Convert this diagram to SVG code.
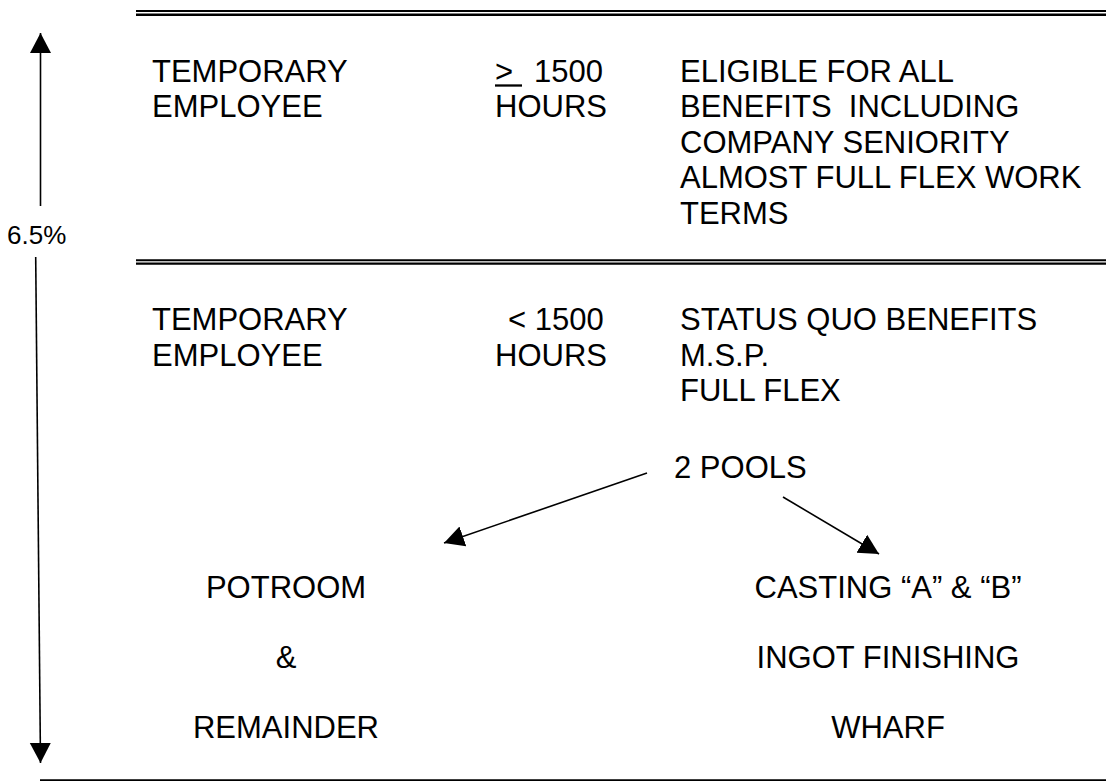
<svg xmlns="http://www.w3.org/2000/svg" width="1106" height="782" viewBox="0 0 1106 782">
<style>
text{font-family:"Liberation Sans",Arial,sans-serif;font-size:31px;fill:#000}
.pct{font-size:26px}
.rule{stroke:#000;fill:none}
.conn{stroke:#000;stroke-width:1.6;fill:none}
</style>
<defs>
<marker id="ah" markerUnits="userSpaceOnUse" markerWidth="22" markerHeight="22" refX="20" refY="10.5" orient="auto" viewBox="0 0 22 22">
<path d="M0,0 L20,10.5 L0,21 Z" fill="#000"/>
</marker>
</defs>
<rect width="1106" height="782" fill="#fff"/>
<g id="rules">
<line class="rule" x1="136" y1="11" x2="1106" y2="11" stroke-width="2"/>
<line class="rule" x1="136" y1="14.8" x2="1106" y2="14.8" stroke-width="2.5"/>
<line class="rule" x1="136" y1="260.3" x2="1106" y2="260.3" stroke-width="2"/>
<line class="rule" x1="136" y1="263.7" x2="1106" y2="263.7" stroke-width="2.3"/>
<line class="rule" x1="40" y1="780.2" x2="1106" y2="780.2" stroke-width="1.7"/>
</g>
<g id="connectors">
<line class="conn" x1="40.5" y1="206" x2="40.5" y2="33" marker-end="url(#ah)"/>
<line class="conn" x1="35.7" y1="257" x2="40.5" y2="763" marker-end="url(#ah)"/>
<line class="conn" x1="647" y1="473" x2="444" y2="543" marker-end="url(#ah)"/>
<line class="conn" x1="783" y1="497" x2="879" y2="554" marker-end="url(#ah)"/>
</g>
<g id="pct-label"><text class="pct" x="7" y="244">6.5%</text></g>
<g id="tier-over-1500">
<text x="152" y="81.5">TEMPORARY</text>
<text x="152" y="117">EMPLOYEE</text>
<text x="495" y="81.5">&gt;</text>
<line class="rule" x1="495" y1="85.5" x2="522" y2="85.5" stroke-width="2.3"/>
<text x="534" y="81.5">1500</text>
<text x="495" y="117">HOURS</text>
<text x="680" y="81.5">ELIGIBLE FOR ALL</text>
<text x="680" y="117" xml:space="preserve">BENEFITS  INCLUDING</text>
<text x="680" y="152.5">COMPANY SENIORITY</text>
<text x="680" y="188">ALMOST FULL FLEX WORK</text>
<text x="680" y="223.5">TERMS</text>
</g>
<g id="tier-under-1500">
<text x="152" y="330">TEMPORARY</text>
<text x="152" y="365.5">EMPLOYEE</text>
<text x="508" y="330">&lt; 1500</text>
<text x="495" y="365.5">HOURS</text>
<text x="680" y="330">STATUS QUO BENEFITS</text>
<text x="680" y="365.5">M.S.P.</text>
<text x="680" y="401">FULL FLEX</text>
</g>
<g id="pools"><text x="674" y="478">2 POOLS</text></g>
<g id="pool-potroom">
<text x="286" y="598" text-anchor="middle">POTROOM</text>
<text x="286" y="668" text-anchor="middle">&amp;</text>
<text x="286" y="738" text-anchor="middle">REMAINDER</text>
</g>
<g id="pool-casting">
<text x="888" y="598" text-anchor="middle">CASTING “A” &amp; “B”</text>
<text x="888" y="668" text-anchor="middle">INGOT FINISHING</text>
<text x="888" y="738" text-anchor="middle">WHARF</text>
</g>
</svg>
